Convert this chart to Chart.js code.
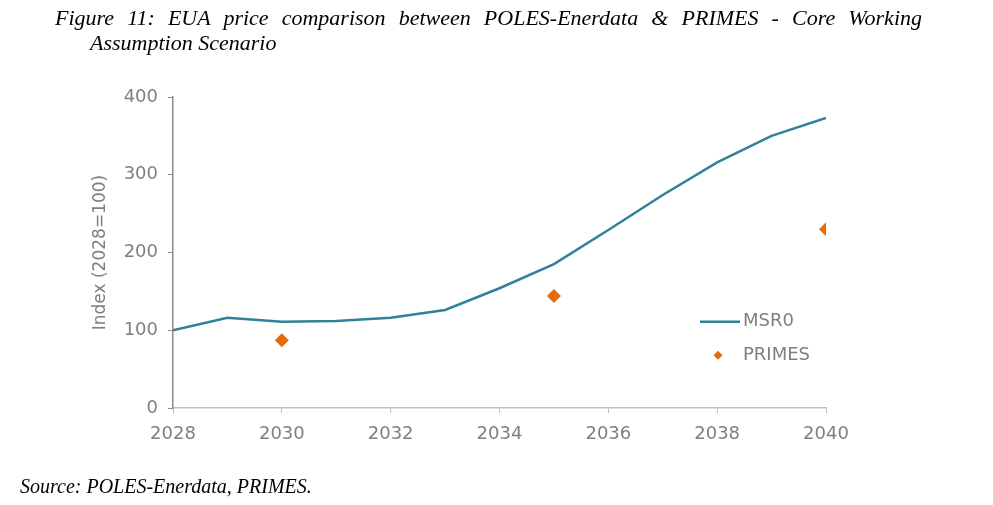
<!DOCTYPE html>
<html>
<head>
<meta charset="utf-8">
<script src="https://cdn.jsdelivr.net/npm/chart.js@4"></script>
<style>
  html, body { margin: 0; padding: 0; background: #fff; }
  #page { position: relative; width: 993px; height: 505px; overflow: hidden; }
  #chart { position: absolute; left: 0; top: 0; }
  .caption {
    position: absolute;
    font-family: "Liberation Serif", "Times New Roman", serif;
    font-style: italic;
    color: #000;
    white-space: nowrap;
  }
  #title1 {
    left: 55px; top: 5px; width: 867px;
    font-size: 22px; line-height: 25px;
    text-align: justify; text-align-last: justify;
    white-space: normal;
  }
  #title2 { left: 90px; top: 30px; font-size: 22px; line-height: 25px; }
  #source { left: 20px; top: 475px; font-size: 20px; }
</style>
</head>
<body>
<div id="page">
  <canvas id="chart" width="993" height="505"></canvas>
  <div id="title1" class="caption">Figure 11: EUA price comparison between POLES-Enerdata &amp; PRIMES - Core Working</div>
  <div id="title2" class="caption">Assumption Scenario</div>
  <div id="source" class="caption">Source: POLES-Enerdata, PRIMES.</div>
</div>
<script>
// data
const years = [2028, 2029, 2030, 2031, 2032, 2033, 2034, 2035, 2036, 2037, 2038, 2039, 2040];
const msr0 = [100, 116, 111, 112, 116, 126, 154, 185, 229, 274, 316, 350, 373];
const primesYears = [2030, 2035, 2040];
const primes = [87, 144, 230];

const tickColor = '#7f7f7f';
const lineColor = '#31819a';
const dotColor = '#e46c0a';
const fontFamily = '"DejaVu Sans", Verdana, sans-serif';

// simple legend drawn inside the plot, like the original
const insideLegend = {
  id: 'insideLegend',
  afterDraw(chart) {
    const ctx = chart.ctx;
    const ds = chart.data.datasets;
    ctx.save();
    ctx.font = '18px ' + fontFamily;
    ctx.textBaseline = 'middle';
    // line entry
    let y = chart.scales.y.getPixelForValue(111);
    ctx.strokeStyle = ds[0].borderColor;
    ctx.lineWidth = 2.5;
    ctx.beginPath();
    ctx.moveTo(700, y);
    ctx.lineTo(740, y);
    ctx.stroke();
    ctx.fillStyle = tickColor;
    ctx.fillText(ds[0].label, 743, y);
    // marker entry
    y = chart.scales.y.getPixelForValue(68);
    ctx.fillStyle = ds[1].backgroundColor;
    ctx.beginPath();
    ctx.moveTo(718, y - 4.5);
    ctx.lineTo(722.5, y);
    ctx.lineTo(718, y + 4.5);
    ctx.lineTo(713.5, y);
    ctx.closePath();
    ctx.fill();
    ctx.fillStyle = tickColor;
    ctx.fillText(ds[1].label, 743, y);
    ctx.restore();
  }
};

new Chart(document.getElementById('chart'), {
  type: 'line',
  data: {
    datasets: [
      {
        label: 'MSR0',
        data: years.map((yr, i) => ({ x: yr, y: msr0[i] })),
        borderColor: lineColor,
        backgroundColor: lineColor,
        borderWidth: 2.5,
        pointRadius: 0,
        tension: 0
      },
      {
        label: 'PRIMES',
        data: primesYears.map((yr, i) => ({ x: yr, y: primes[i] })),
        showLine: false,
        pointStyle: 'rectRot',
        pointRadius: 7,
        borderWidth: 0,
        borderColor: dotColor,
        backgroundColor: dotColor
      }
    ]
  },
  options: {
    responsive: false,
    animation: false,
    devicePixelRatio: 1,
    layout: { padding: { left: 86, right: 167, top: 97, bottom: 53 } },
    plugins: {
      legend: { display: false },
      tooltip: { enabled: false }
    },
    scales: {
      x: {
        type: 'linear',
        min: 2028,
        max: 2040,
        afterFit(scale) { scale.height = 44; },
        border: { color: '#bfbfbf', width: 1.5 },
        grid: { drawOnChartArea: false, tickLength: 5, color: '#bfbfbf' },
        ticks: {
          stepSize: 2,
          padding: 11,
          color: tickColor,
          maxRotation: 0,
          font: { family: fontFamily, size: 18 },
          callback: v => String(v)
        }
      },
      y: {
        min: 0,
        max: 400,
        afterFit(scale) { scale.width = 87; },
        border: { color: '#8c8c8c', width: 1.5 },
        grid: { drawOnChartArea: false, tickLength: 5, color: '#8c8c8c' },
        ticks: {
          stepSize: 100,
          padding: 10,
          color: tickColor,
          font: { family: fontFamily, size: 18 }
        },
        title: {
          display: true,
          text: 'Index (2028=100)',
          color: tickColor,
          padding: { top: 4, bottom: 4 },
          font: { family: fontFamily, size: 17 }
        }
      }
    }
  },
  plugins: [insideLegend]
});
</script>
</body>
</html>
